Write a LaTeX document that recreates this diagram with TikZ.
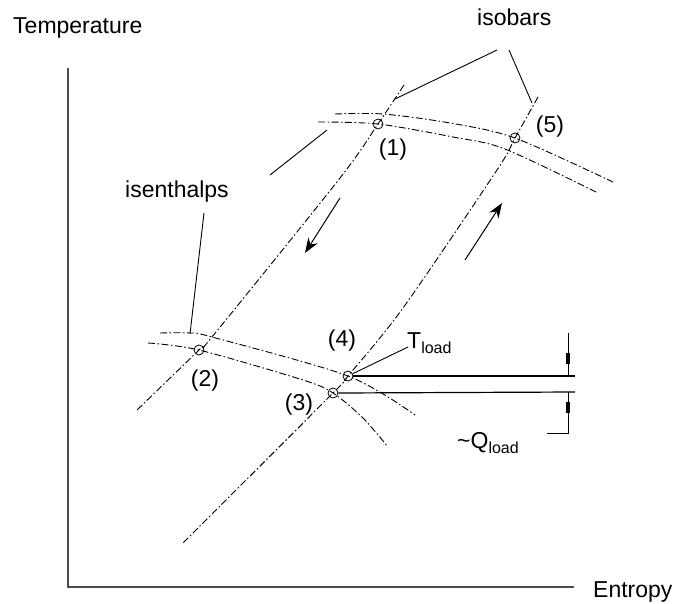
\documentclass[tikz,border=0pt]{standalone}
\usepackage{fontspec}
\setmainfont{Liberation Sans}
\usetikzlibrary{arrows.meta,positioning}
\tikzset{
  axis/.style={line width=2pt, draw=black!70},
  isoln/.style={line width=0.9pt, dash pattern=on 7pt off 2.5pt on 1.5pt off 2.5pt},
  statept/.style={draw, circle, line width=0.8pt, minimum size=10pt, inner sep=0pt},
  lbl/.style={font=\fontsize{23}{27}\selectfont, inner sep=0pt},
  lead/.style={line width=0.9pt},
  flow/.style={-{Stealth[length=15pt,width=11pt]}, line width=1pt},
  dimln/.style={line width=1.2pt},
}
\newcommand{\lowtxt}[1]{\raisebox{-0.45ex}{\fontsize{16}{16}\selectfont #1}}

\begin{document}
\begin{tikzpicture}[x=1pt,y=-1pt]
  \useasboundingbox (0,0) rectangle (678,603);
  % axes
  \coordinate (org) at (68,587);
  \draw[axis] (68,68) -- (org) -- (574,587);
  \node[lbl,anchor=base west] (tt) at (13,33) {Temperature};
  \node[lbl,anchor=base west] (ss) at (593,597) {Entropy};

  % states
  \node[statept] (s1) at (378,124) {};
  \node[statept] (s5) at (515,138) {};
  \node[statept] (s2) at (199,350) {};
  \node[statept] (s4) at (348,376) {};
  \node[statept] (s3) at (333,393) {};
  \node[lbl] (n1) at (393,150) {(1)};
  \node[lbl] (n5) at (550,127) {(5)};
  \node[lbl] (n2) at (205,381) {(2)};
  \node[lbl] (n4) at (342,341) {(4)};
  \node[lbl] (n3) at (299,405) {(3)};

  % isobars, high and low pressure
  \draw[isoln] plot[smooth] coordinates {(335,114) (383,114) (450,123) (s5.center) (613,182)};
  \draw[isoln] plot[smooth] coordinates {(318,122) (s1.center) (453,137) (505,149) (598,193)};
  \draw[isoln] plot[smooth] coordinates {(160,333) (190,333) (212,337) (s4.center) (415,415)};
  \draw[isoln] plot[smooth] coordinates {(148,343) (s2.center) (303,380) (s3.center) (363,418) (388,447)};
  % isenthalps
  \draw[isoln] plot[smooth] coordinates {(404,85) (s1.center) (340,178) (212,337) (s2.center) (137,410)};
  \draw[isoln] plot[smooth] coordinates {(538,97) (s5.center) (497,170) (403,308) (s4.center) (s3.center) (182,544)};
  \draw[lead] (270,175) -- (327,130);

  % flow direction
  \coordinate (fa) at (340,198);
  \coordinate (fb) at (305,253);
  \coordinate (fc) at (465,260);
  \coordinate (fd) at (502,203);
  \draw[flow] (fa) -- (fb);
  \draw[flow] (fc) -- (fd);

  % leaders
  \node[lbl,anchor=base west] (ib) at (477,25) {isobars};
  \node[lbl,anchor=base west] (ih) at (125,197) {isenthalps};
  \coordinate (ib1) at (497,50);
  \coordinate (ib2) at (509,50);
  \draw[lead] (ib1) -- (395,99);
  \draw[lead] (ib2) -- (532,103);
  \coordinate (ih1) at (204,213);
  \draw[lead] (ih1) -- (190,334);

  % load temperature and heat
  \node[lbl,anchor=base west] (tl) at (407,348) {T\lowtxt{load}};
  \node[lbl,anchor=base west] (ql) at (457,448) {\textasciitilde Q\lowtxt{load}};
  \coordinate (tle) at (408,347);
  \draw[lead] (s4) -- (tle);
  \coordinate (h4) at (575,376);
  \coordinate (h3) at (575,392);
  \draw[dimln] (s4.east) -- (h4);
  \draw[dimln] (s3.east) -- (h3);
  \draw[lead] (568,333) -- (568,376);
  \draw[lead] (568,392) -- (568,433) -- (547,433);
  \draw[line width=3.5pt] (568,353) -- (568,364);
  \draw[line width=3.5pt] (568,402) -- (568,413);
\end{tikzpicture}
\end{document}
